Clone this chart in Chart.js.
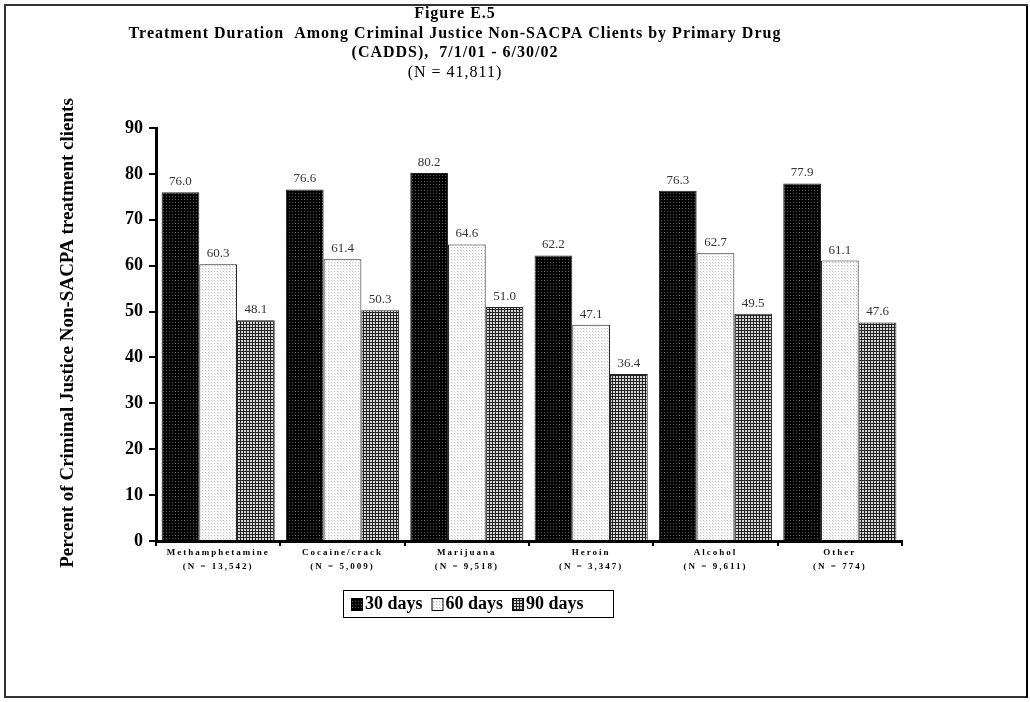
<!DOCTYPE html>
<html>
<head>
<meta charset="utf-8">
<script src="https://cdn.jsdelivr.net/npm/chart.js@4"></script>
<style>
  body { margin: 0; background: #fff; }
  #wrap { width: 1030px; height: 702px; }
</style>
</head>
<body>
<div id="wrap"><canvas id="durationChart" width="1030" height="702"></canvas></div>
<script>
// chart data
const categories = ['Methamphetamine', 'Cocaine/crack', 'Marijuana', 'Heroin', 'Alcohol', 'Other'];
const categoryNs = ['(N = 13,542)', '(N = 5,009)', '(N = 9,518)', '(N = 3,347)', '(N = 9,611)', '(N = 774)'];
const seriesNames = ['30 days', '60 days', '90 days'];
const days30 = [76.0, 76.6, 80.2, 62.2, 76.3, 77.9];
const days60 = [60.3, 61.4, 64.6, 47.1, 62.7, 61.1];
const days90 = [48.1, 50.3, 51.0, 36.4, 49.5, 47.6];
const yMin = 0, yMax = 90, yStep = 10;

const titleLines = ['Figure E.5', 'Treatment Duration  Among Criminal Justice Non-SACPA Clients by Primary Drug', '(CADDS),  7/1/01 - 6/30/02'];
const subTitle = '(N = 41,811)';
const yTitle = 'Percent of Criminal Justice Non-SACPA treatment clients';

const SERIF = "'Liberation Serif', 'Times New Roman', serif";

// small tiled patterns like the old print fills
function makePattern(size, base, dots) {
    const c = document.createElement('canvas');
    c.width = size; c.height = size;
    const g = c.getContext('2d');
    g.fillStyle = base;
    g.fillRect(0, 0, size, size);
    dots.forEach(([x, y, col]) => { g.fillStyle = col; g.fillRect(x, y, 1, 1); });
    return g.createPattern(c, 'repeat');
}
const pat30 = makePattern(3, '#000', [[1, 1, '#5a5a5a']]);
const pat60 = makePattern(3, '#fff', [[1, 1, '#bdbdbd'], [2, 2, '#e2e2e2']]);
const pat90 = makePattern(3, '#d8d8d8', [[0, 0, '#222'], [1, 0, '#222'], [2, 0, '#222'], [0, 1, '#222'], [0, 2, '#222']]);

const decorPlugin = {
    id: 'decor',
    beforeDraw(chart) {
        const ctx = chart.ctx;
        ctx.save();
        ctx.fillStyle = '#fff';
        ctx.fillRect(0, 0, chart.width, chart.height);
        ctx.restore();
    },
    afterDraw(chart) {
        const ctx = chart.ctx;
        const x = chart.scales.x;
        ctx.save();

        // outer frame (darker on the right/bottom like a shadow)
        ctx.strokeStyle = '#333';
        ctx.lineWidth = 2;
        ctx.strokeRect(5, 5, 1022, 692);
        ctx.fillStyle = '#000';
        ctx.fillRect(1026, 6, 2, 692);

        // title
        ctx.fillStyle = '#000';
        ctx.textAlign = 'center';
        ctx.textBaseline = 'middle';
        ctx.font = 'bold 16px ' + SERIF;
        ctx.letterSpacing = '1px';
        const tx = 455;
        titleLines.forEach((t, i) => ctx.fillText(t, tx, 14 + i * 19.5));
        ctx.font = '16px ' + SERIF;
        ctx.fillText(subTitle, tx, 73);

        // y axis title
        ctx.save();
        ctx.translate(68, 333);
        ctx.rotate(-Math.PI / 2);
        ctx.font = 'bold 19px ' + SERIF;
        ctx.letterSpacing = '0px';
        ctx.fillText(yTitle, 0, 0);
        ctx.restore();

        // category labels
        ctx.font = 'bold 9px ' + SERIF;
        ctx.letterSpacing = '2px';
        categories.forEach((c, i) => {
            const px = x.getPixelForValue(i);
            ctx.fillText(c, px, 553);
            ctx.fillText(categoryNs[i], px, 567);
        });

        // value labels above bars
        ctx.font = '13px ' + SERIF;
        ctx.letterSpacing = '0px';
        ctx.fillStyle = '#333';
        ctx.textBaseline = 'bottom';
        chart.data.datasets.forEach((ds, di) => {
            chart.getDatasetMeta(di).data.forEach((bar, i) => {
                ctx.fillText(ds.data[i].toFixed(1), bar.x, bar.y - 4);
            });
        });

        // legend box
        const lx = 343, ly = 590, lw = 270, lh = 27;
        ctx.strokeStyle = '#000';
        ctx.lineWidth = 1;
        ctx.strokeRect(lx + 0.5, ly + 0.5, lw, lh);
        ctx.font = 'bold 18px ' + SERIF;
        ctx.fillStyle = '#000';
        ctx.textAlign = 'left';
        ctx.textBaseline = 'middle';
        let cx = lx + 8;
        chart.data.datasets.forEach((ds) => {
            ctx.fillStyle = ds.backgroundColor;
            ctx.fillRect(cx, ly + 8, 11, 12);
            ctx.strokeRect(cx + 0.5, ly + 8.5, 11, 12);
            ctx.fillStyle = '#000';
            ctx.fillText(ds.label, cx + 14, ly + 14.5);
            cx += 14 + ctx.measureText(ds.label).width + 9;
        });
        ctx.restore();
    }
};

new Chart(document.getElementById('durationChart'), {
    type: 'bar',
    data: {
        labels: categories,
        datasets: [
            { label: seriesNames[0], data: days30, backgroundColor: pat30 },
            { label: seriesNames[1], data: days60, backgroundColor: pat60 },
            { label: seriesNames[2], data: days90, backgroundColor: pat90 }
        ]
    },
    options: {
        responsive: false,
        animation: false,
        devicePixelRatio: 1,
        layout: { padding: { left: 0, top: 128, right: 128, bottom: 161 } },
        datasets: {
            bar: { categoryPercentage: 0.91, barPercentage: 1.0, borderWidth: 1, borderColor: '#222' }
        },
        plugins: {
            legend: { display: false },
            title: { display: false },
            tooltip: { enabled: false }
        },
        scales: {
            x: {
                ticks: { display: false },
                grid: { drawOnChartArea: false, offset: true, tickLength: 5, color: '#000', lineWidth: 2 },
                border: { color: '#000', width: 3 },
                afterFit: (s) => { s.height = 0; }
            },
            y: {
                min: yMin,
                max: yMax,
                ticks: { stepSize: yStep, color: '#000', padding: 6, font: { family: SERIF, size: 18, weight: 'bold' } },
                grid: { drawOnChartArea: false, tickLength: 7, color: '#000', lineWidth: 2 },
                border: { color: '#000', width: 3 },
                afterFit: (s) => { s.width = 156; }
            }
        }
    },
    plugins: [decorPlugin]
});
</script>
</body>
</html>
